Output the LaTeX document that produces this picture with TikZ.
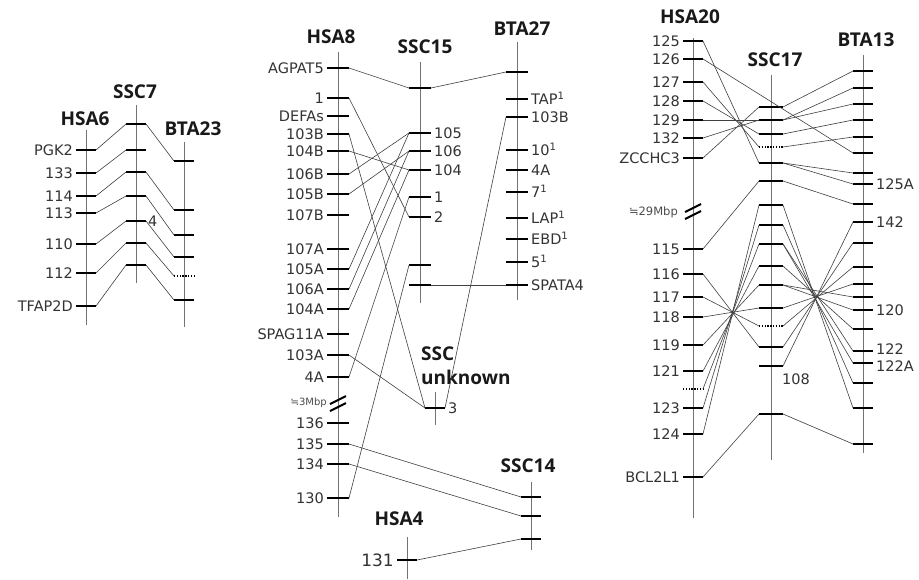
\documentclass[tikz,border=0pt]{standalone}
\usepackage{fontspec}
\setmainfont{Open Sans}
\newfontfamily\symfont{DejaVu Sans}
\newfontfamily\labfont{DejaVu Sans}
\newcommand\tk[4]{\coordinate (#1l) at ({#2-#4},#3);\coordinate (#1r) at ({#2+#4},#3);\draw[tickl] (#1l)--(#1r);}
\newcommand\tkd[4]{\coordinate (#1l) at ({#2-#4},#3);\coordinate (#1r) at ({#2+#4},#3);\draw[dotl] (#1l)--(#1r);}
\newcommand\lbL[2]{\node[lab,anchor=east] (#1t) at ([xshift=-3pt]#1l) {#2};}
\newcommand\lbR[2]{\node[lab,anchor=west] (#1t) at ([xshift=3pt]#1r) {#2};}
\newcommand\brk[3]{\draw[brkl] ({#2-8},{#3+1}) -- ({#2+8},{#3-7}); \draw[brkl] ({#2-8},{#3+8}) -- ({#2+8},{#3});}
\begin{document}
\begin{tikzpicture}[x=1pt,y=-1pt,
 chrom/.style={draw=black!55, line width=0.8pt},
 tickl/.style={line width=2.2pt, black},
 dotl/.style={line width=2.2pt, black, dash pattern=on 1.4pt off 1.4pt},
 brkl/.style={line width=2pt, black},
 conn/.style={draw=black!75, line width=0.6pt},
 lab/.style={font=\labfont\fontsize{14.5}{16}\selectfont, inner sep=0pt, text height=10.6pt, text depth=0pt, text=black!80},
 small/.style={font=\labfont\fontsize{10}{12}\selectfont, inner sep=0pt, text=black!70},
 ttl/.style={font=\fontsize{19}{20}\selectfont\bfseries, inner sep=0pt, text=black!90}]
\useasboundingbox[fill=white] (0,0) rectangle (919,579);

% ---------------- left panel ----------------
\node[ttl] (tHSA6) at (85,119) {HSA6};
\node[ttl] (tSSC7) at (135,92) {SSC7};
\node[ttl] (tBTA23) at (193,129) {BTA23};
\draw[chrom] (86,130) -- (86,325);
\draw[chrom] (136,105) -- (136,283);
\draw[chrom] (184,142) -- (184,327);
\tk{h6a}{86}{150}{10}\lbL{h6a}{PGK2}
\tk{h6b}{86}{173}{10}\lbL{h6b}{133}
\tk{h6c}{86}{196}{10}\lbL{h6c}{114}
\tk{h6d}{86}{213}{10}\lbL{h6d}{113}
\tk{h6e}{86}{244}{10}\lbL{h6e}{110}
\tk{h6f}{86}{273}{10}\lbL{h6f}{112}
\tk{h6g}{86}{306}{10}\lbL{h6g}{TFAP2D}
\tk{s7a}{136}{124}{10}
\tk{s7b}{136}{150}{10}
\tk{s7c}{136}{172}{10}
\tk{s7d}{136}{196}{10}
\tk{s7e}{136}{221}{10}\node[lab,anchor=west] (s7et) at (148,221) {4};
\tk{s7f}{136}{243}{10}
\tk{s7g}{136}{265}{10}
\tk{b23a}{184}{161}{10}
\tk{b23b}{184}{210}{10}
\tk{b23c}{184}{235}{10}
\tk{b23d}{184}{257}{10}
\tkd{b23e}{184}{276}{10}
\tk{b23f}{184}{300}{10}
\foreach \a/\b in {h6a/s7a,h6b/s7b,h6c/s7c,h6d/s7d,h6e/s7e,h6f/s7f,h6g/s7g,
  s7a/b23a,s7c/b23b,s7d/b23c,s7e/b23d,s7f/b23e,s7g/b23f}
  \draw[conn] (\a r) -- (\b l);

% ---------------- middle panel ----------------
\node[ttl] (tHSA8) at (331,37) {HSA8};
\node[ttl] (tSSC15) at (425,47) {SSC15};
\node[ttl] (tBTA27) at (522,29) {BTA27};
\node[ttl,anchor=west] (tSSCu1) at (421,354) {SSC};
\node[ttl,anchor=west] (tSSCu2) at (421,377) {unknown};
\node[ttl] (tSSC14) at (528,466) {SSC14};
\node[ttl] (tHSA4) at (399,519) {HSA4};
\draw[chrom] (338,52) -- (338,517);
\draw[chrom] (420,62) -- (420,303);
\draw[chrom] (517,42) -- (517,300);
\draw[chrom] (435,392) -- (435,425);
\draw[chrom] (531,482) -- (531,550);
\draw[chrom] (407,537) -- (407,579);
\tk{h8a}{338}{68}{11}\lbL{h8a}{AGPAT5}
\tk{h8b}{338}{98}{11}\lbL{h8b}{1}
\tk{h8c}{338}{116}{11}\lbL{h8c}{DEFAs}
\tk{h8d}{338}{134}{11}\lbL{h8d}{103B}
\tk{h8e}{338}{151}{11}\lbL{h8e}{104B}
\tk{h8f}{338}{174}{11}\lbL{h8f}{106B}
\tk{h8g}{338}{194}{11}\lbL{h8g}{105B}
\tk{h8h}{338}{215}{11}\lbL{h8h}{107B}
\tk{h8i}{338}{249}{11}\lbL{h8i}{107A}
\tk{h8j}{338}{269}{11}\lbL{h8j}{105A}
\tk{h8k}{338}{289}{11}\lbL{h8k}{106A}
\tk{h8l}{338}{309}{11}\lbL{h8l}{104A}
\tk{h8m}{338}{334}{11}\lbL{h8m}{SPAG11A}
\tk{h8n}{338}{355}{11}\lbL{h8n}{103A}
\tk{h8o}{338}{377}{11}\lbL{h8o}{4A}
\brk{h8br}{338}{403}
\node[small,anchor=east] (h8brt) at (327,403) {{\symfont ≒}3Mbp};
\tk{h8p}{338}{423}{11}\lbL{h8p}{136}
\tk{h8q}{338}{444}{11}\lbL{h8q}{135}
\tk{h8r}{338}{464}{11}\lbL{h8r}{134}
\tk{h8s}{338}{498}{11}\lbL{h8s}{130}
\tk{s15a}{420}{88}{11}
\tk{s15b}{420}{133}{11}\lbR{s15b}{105}
\tk{s15c}{420}{151}{11}\lbR{s15c}{106}
\tk{s15d}{420}{170}{11}\lbR{s15d}{104}
\tk{s15e}{420}{197}{11}\lbR{s15e}{1}
\tk{s15f}{420}{217}{11}\lbR{s15f}{2}
\tk{s15g}{420}{265}{11}
\tk{s15h}{420}{285}{11}
\tk{b27a}{517}{72}{11}
\tk{b27b}{517}{99}{11}\lbR{b27b}{TAP\textsuperscript{1}}
\tk{b27c}{517}{117}{11}\lbR{b27c}{103B}
\tk{b27d}{517}{150}{11}\lbR{b27d}{10\textsuperscript{1}}
\tk{b27e}{517}{170}{11}\lbR{b27e}{4A}
\tk{b27f}{517}{192}{11}\lbR{b27f}{7\textsuperscript{1}}
\tk{b27g}{517}{218}{11}\lbR{b27g}{LAP\textsuperscript{1}}
\tk{b27h}{517}{239}{11}\lbR{b27h}{EBD\textsuperscript{1}}
\tk{b27i}{517}{262}{11}\lbR{b27i}{5\textsuperscript{1}}
\tk{b27j}{517}{285}{11}\lbR{b27j}{SPATA4}
\tk{su}{435}{408}{10}\lbR{su}{3}
\tk{s14a}{531}{497}{10}
\tk{s14b}{531}{516}{10}
\tk{s14c}{531}{539}{10}
\tk{h4a}{407}{560}{10}
\node[lab,anchor=east,font=\labfont\fontsize{17}{18}\selectfont,text height=12.4pt] (h4at) at ([xshift=-3pt]h4al) {131};
\foreach \a/\b in {h8a/s15a,s15a/b27a,h8b/s15f,h8d/su,h8e/s15d,h8f/s15b,h8g/s15c,
  h8j/s15b,h8k/s15c,h8l/s15d,h8n/su,h8o/s15e,h8s/s15g,s15h/b27j,su/b27c,
  h8q/s14a,h8r/s14b,h4a/s14c}
  \draw[conn] (\a r) -- (\b l);

% ---------------- right panel ----------------
\node[ttl] (tHSA20) at (690,17) {HSA20};
\node[ttl] (tSSC17) at (775,60) {SSC17};
\node[ttl] (tBTA13) at (866,40) {BTA13};
\draw[chrom] (693,38) -- (693,518);
\draw[chrom] (771,75) -- (771,460);
\draw[chrom] (863,55) -- (863,453);
\tk{h20a}{693}{41}{10}\lbL{h20a}{125}
\tk{h20b}{693}{59}{10}\lbL{h20b}{126}
\tk{h20c}{693}{82}{10}\lbL{h20c}{127}
\tk{h20d}{693}{101}{10}\lbL{h20d}{128}
\tk{h20e}{693}{120}{10}\lbL{h20e}{129}
\tk{h20f}{693}{138}{10}\lbL{h20f}{132}
\tk{h20g}{693}{158}{10}\lbL{h20g}{ZCCHC3}
\brk{h20br}{693}{211}
\node[small,anchor=east,font=\labfont\fontsize{11.5}{13}\selectfont] (h20brt) at (678,212) {{\symfont ≒}29Mbp};
\tk{h20h}{693}{249}{10}\lbL{h20h}{115}
\tk{h20i}{693}{274}{10}\lbL{h20i}{116}
\tk{h20j}{693}{297}{10}\lbL{h20j}{117}
\tk{h20k}{693}{317}{10}\lbL{h20k}{118}
\tk{h20l}{693}{345}{10}\lbL{h20l}{119}
\tk{h20m}{693}{371}{10}\lbL{h20m}{121}
\tkd{h20n}{693}{389}{10}
\tk{h20o}{693}{408}{10}\lbL{h20o}{123}
\tk{h20p}{693}{434}{10}\lbL{h20p}{124}
\tk{h20q}{693}{477}{10}\lbL{h20q}{BCL2L1}
\tk{s17a}{771}{107}{12}
\tk{s17b}{771}{120}{12}
\tk{s17c}{771}{134}{12}
\tkd{s17d}{771}{147}{12}
\tk{s17e}{771}{163}{12}
\tk{s17f}{771}{181}{12}
\tk{s17g}{771}{205}{12}
\tk{s17h}{771}{225}{12}
\tk{s17i}{771}{244}{12}
\tk{s17j}{771}{266}{12}
\tk{s17k}{771}{285}{12}
\tk{s17l}{771}{308}{12}
\tkd{s17m}{771}{326}{12}
\tk{s17n}{771}{347}{12}
\tk{s17o}{771}{366}{12}\node[lab,anchor=west] (s17ot) at (782,379) {108};
\tk{s17p}{771}{414}{12}
\tk{b13a}{863}{71}{10}
\tk{b13b}{863}{88}{10}
\tk{b13c}{863}{104}{10}
\tk{b13d}{863}{120}{10}
\tk{b13e}{863}{137}{10}
\tk{b13f}{863}{153}{10}
\tk{b13g}{863}{173}{10}
\tk{b13h}{863}{184}{10}\lbR{b13h}{125A}
\tk{b13i}{863}{204}{10}
\tk{b13j}{863}{222}{10}\lbR{b13j}{142}
\tk{b13k}{863}{243}{10}
\tk{b13l}{863}{267}{10}
\tk{b13m}{863}{284}{10}
\tk{b13n}{863}{297}{10}
\tk{b13o}{863}{310}{10}\lbR{b13o}{120}
\tk{b13p}{863}{329}{10}
\tk{b13q}{863}{351}{10}\node[lab,anchor=west] (b13qt) at (876,349) {122};
\tk{b13r}{863}{363}{10}\node[lab,anchor=west] (b13rt) at (876,366) {122A};
\tk{b13s}{863}{383}{10}
\tk{b13t}{863}{408}{10}
\tk{b13u}{863}{444}{10}
\foreach \a/\b in {h20a/s17e,h20b/b13f,h20c/s17d,h20d/s17c,h20e/s17b,h20f/s17b,h20g/s17a,
  s17a/b13a,s17b/b13b,s17b/b13c,s17c/b13d,s17d/b13e,s17e/b13g,s17e/b13h,
  h20h/s17f,s17f/b13i,
  h20i/s17n,h20j/s17m,h20k/s17l,h20l/s17k,h20m/s17j,h20n/s17i,h20o/s17h,h20p/s17g,
  s17g/b13t,s17h/b13s,s17i/b13r,s17i/b13q,s17j/b13p,s17k/b13o,s17k/b13n,s17l/b13m,s17m/b13l,s17n/b13k,s17o/b13j,
  h20q/s17p,s17p/b13u}
  \draw[conn] (\a r) -- (\b l);
\end{tikzpicture}
\end{document}
